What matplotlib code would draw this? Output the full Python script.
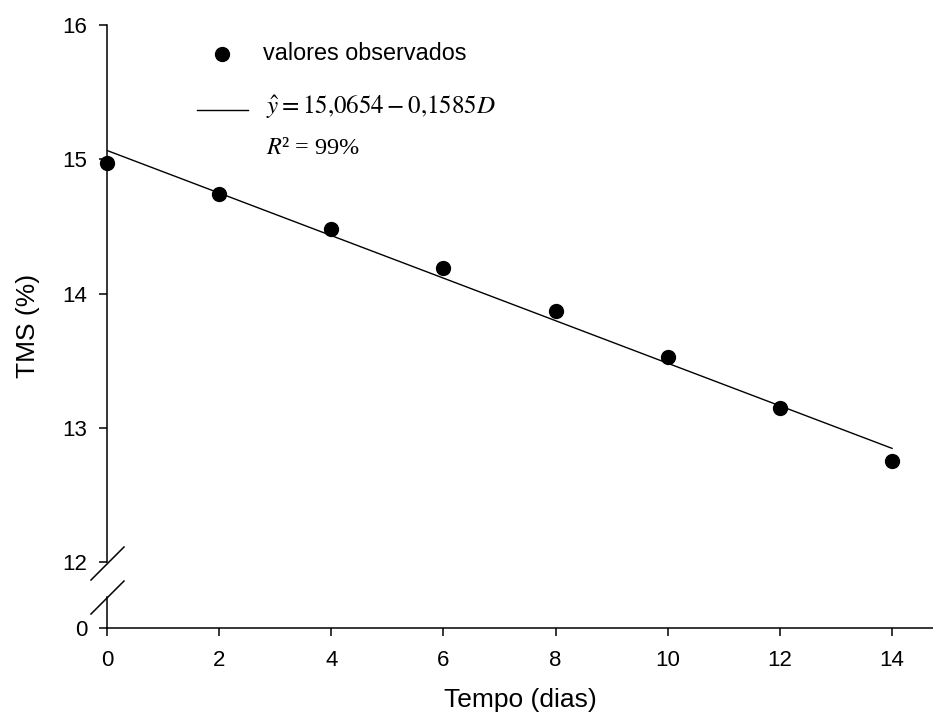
import numpy as np
import matplotlib
matplotlib.use("Agg")
import matplotlib.pyplot as plt
from matplotlib.lines import Line2D

plt.rcParams['font.family'] = ['Liberation Sans', 'DejaVu Sans']
plt.rcParams['mathtext.fontset'] = 'stix'

# observed dry matter content over storage time
dias = [0, 2, 4, 6, 8, 10, 12, 14]
tms = [14.97, 14.74, 14.48, 14.19, 13.87, 13.53, 13.15, 12.75]

# fitted linear model
b0 = 15.0654
b1 = -0.1585

x_ticks = [0, 2, 4, 6, 8, 10, 12, 14]
y_ticks_top = [12, 13, 14, 15, 16]

TICK_FS = 16
LABEL_FS = 19

fig = plt.figure(figsize=(9.33, 7.26), dpi=100)

left = 107 / 933
width = 1 - left
ax = fig.add_axes([left, 1 - 562 / 726, width, (562 - 25) / 726])
ax_low = fig.add_axes([left, 1 - 628 / 726, width, (628 - 597) / 726])

xmax = 14.73
for a in (ax, ax_low):
    a.set_xlim(0, xmax)
    a.patch.set_visible(False)
    a.spines['top'].set_visible(False)
    a.spines['right'].set_visible(False)
    for s in a.spines.values():
        s.set_linewidth(1.1)
    a.tick_params(direction='out', length=6, width=1.1, labelsize=TICK_FS)
    a.tick_params(axis='y', pad=8)
    a.tick_params(axis='x', pad=10)

# upper part: 12 to 16
ax.spines['bottom'].set_visible(False)
ax.set_ylim(12, 16)
ax.set_yticks(y_ticks_top)
ax.set_xticks([])

# lower part: only zero
ax_low.set_ylim(0, 1)
ax_low.set_yticks([0])
ax_low.set_xticks(x_ticks)

xs = np.array([0, 14])
ax.plot(xs, b0 + b1 * xs, color='black', lw=1.0)
ax.plot(dias, tms, 'o', color='black', markersize=10, clip_on=False, zorder=3)

# break marks on the y axis
for y0, y1 in [(580, 547), (614, 581)]:
    fig.add_artist(Line2D([91 / 933, 124 / 933], [1 - y0 / 726, 1 - y1 / 726],
                          color='black', lw=1.1))

fig.text(28 / 933, 1 - 326 / 726, 'TMS (%)', rotation=90, ha='center', va='center',
         fontsize=LABEL_FS)
fig.text(520 / 933, 1 - 700 / 726, 'Tempo (dias)', ha='center', va='center',
         fontsize=LABEL_FS)

# legend built by hand
fig.add_artist(Line2D([222 / 933], [1 - 54 / 726], marker='o', color='black',
                      markersize=10, linestyle='none'))
fig.text(263 / 933, 1 - 54 / 726, 'valores observados', ha='left', va='center',
         fontsize=16.8)
fig.add_artist(Line2D([197 / 933, 248 / 933], [1 - 110 / 726, 1 - 110 / 726],
                      color='black', lw=1.0))
fig.text(266 / 933, 1 - 107 / 726, r'$\hat{y}=15{,}0654-0{,}1585D$', ha='left',
         va='center', fontsize=18)
fig.text(266 / 933, 1 - 148 / 726, '$R$² = 99%', ha='left', va='center',
         fontsize=17.5, family='Liberation Serif')

fig.savefig('out.png', dpi=100)
